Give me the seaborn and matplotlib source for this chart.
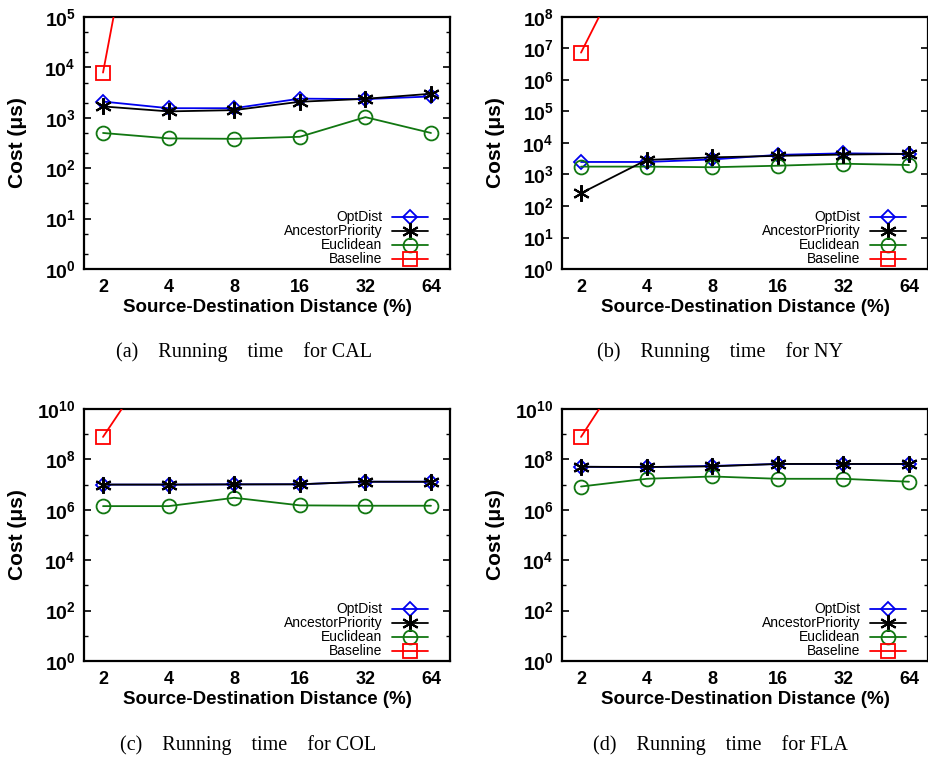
import numpy as np
import matplotlib
matplotlib.use("Agg")
import matplotlib.pyplot as plt
import matplotlib.ticker as mticker
import pandas as pd
import seaborn as sns

# distancia fonte-destino (%)
distancias = [2, 4, 8, 16, 32, 64]

# (a) CAL
cal_optdist = [2100, 1550, 1550, 2400, 2350, 2650]
cal_ancestor = [1680, 1340, 1420, 2080, 2380, 3000]
cal_euclid = [500, 390, 383, 420, 1030, 500]
cal_baseline = [7900, 6e10]

# (b) NY
ny_optdist = [2500, 2500, 3000, 4200, 4700, 4500]
ny_ancestor = [255, 2900, 3500, 3900, 4300, 4500]
ny_euclid = [1780, 1780, 1700, 1900, 2200, 2000]
ny_baseline = [7.4e6, 1e11]

# (c) COL
col_optdist = [1.0e7, 1.0e7, 1.02e7, 1.03e7, 1.3e7, 1.3e7]
col_ancestor = [1.0e7, 1.0e7, 1.02e7, 1.03e7, 1.3e7, 1.3e7]
col_euclid = [1.4e6, 1.4e6, 3.0e6, 1.5e6, 1.45e6, 1.45e6]
col_baseline = [7.8e8, 6e12]

# (d) FLA
fla_optdist = [5.1e7, 4.9e7, 5.5e7, 6.6e7, 6.6e7, 6.5e7]
fla_ancestor = [5.1e7, 5.0e7, 5.3e7, 6.6e7, 6.6e7, 6.6e7]
fla_euclid = [8.4e6, 1.7e7, 2.1e7, 1.7e7, 1.7e7, 1.3e7]
fla_baseline = [7.8e8, 8e12]

paineis = [
    ("(a)    Running    time    for CAL", cal_optdist, cal_ancestor, cal_euclid, cal_baseline, 5, 1),
    ("(b)    Running    time    for NY", ny_optdist, ny_ancestor, ny_euclid, ny_baseline, 8, 1),
    ("(c)    Running    time    for COL", col_optdist, col_ancestor, col_euclid, col_baseline, 10, 2),
    ("(d)    Running    time    for FLA", fla_optdist, fla_ancestor, fla_euclid, fla_baseline, 10, 2),
]

sns.set_style("white")
plt.rcParams["font.family"] = ["Liberation Sans", "DejaVu Sans"]
plt.rcParams["mathtext.fontset"] = "custom"
plt.rcParams["mathtext.bf"] = "Liberation Sans:bold"
plt.rcParams["mathtext.rm"] = "Liberation Sans:bold"
for k in ["text.color", "axes.labelcolor", "xtick.color", "ytick.color"]:
    plt.rcParams[k] = "black"

fig = plt.figure(figsize=(9.29, 7.61), dpi=100)
W, H = 929, 761
caixas = [(84, 17), (562, 17), (84, 409), (562, 409)]
legenda_x = [(244, 352), (720, 352), (248, 745), (720, 745)]

asterisco = (6, 2, 0)

for i, (titulo, opt, anc, euc, base, topo, passo) in enumerate(paineis):
    x0, y0 = caixas[i]
    ax = fig.add_axes([x0 / W, 1 - (y0 + 252) / H, 366 / W, 252 / H])

    sns.lineplot(x=distancias, y=opt, ax=ax, color="#0000ee", lw=1.3, marker="D",
                 markersize=7, markerfacecolor="none", markeredgecolor="#0000ee",
                 markeredgewidth=1.3, label="OptDist", zorder=3)
    sns.lineplot(x=distancias, y=anc, ax=ax, color="black", lw=1.3, marker=asterisco,
                 markersize=12, markeredgewidth=1.5, markeredgecolor="black",
                 label="AncestorPriority", zorder=4)
    sns.lineplot(x=distancias, y=euc, ax=ax, color="#117711", lw=1.3, marker="o",
                 markersize=10, markerfacecolor="none", markeredgecolor="#117711",
                 markeredgewidth=1.3, label="Euclidean", zorder=3)
    sns.lineplot(x=distancias[:len(base)], y=base, ax=ax, color="red", lw=1.3, marker="s",
                 markersize=10, markerfacecolor="none", markeredgecolor="red",
                 markeredgewidth=1.3, label="Baseline", zorder=3)

    ax.set_xscale("log", base=2)
    ax.set_yscale("log")
    ax.set_xlim(2 ** 0.71, 2 ** 6.29)
    ax.set_ylim(1, 10 ** topo)
    ax.set_xticks(distancias)
    ax.set_xticklabels([str(d) for d in distancias], fontweight="bold", fontsize=13)
    ax.xaxis.set_minor_locator(mticker.NullLocator())
    ax.tick_params(axis="x", length=0, pad=7)

    ax.yaxis.set_major_locator(mticker.FixedLocator([10.0 ** k for k in range(0, topo + 1, passo)]))
    ax.yaxis.set_major_formatter(mticker.FuncFormatter(
        lambda v, p: r"$\mathbf{10^{%d}}$" % round(np.log10(v))))
    if passo == 1:
        ax.yaxis.set_minor_locator(mticker.LogLocator(base=10, subs=[2, 5]))
    else:
        ax.yaxis.set_minor_locator(mticker.FixedLocator([10.0 ** k for k in range(1, topo, 2)]))
    ax.yaxis.set_minor_formatter(mticker.NullFormatter())
    ax.tick_params(axis="y", which="major", direction="in", length=5, width=1.2,
                   left=True, right=True, labelsize=14, pad=6)
    ax.tick_params(axis="y", which="minor", direction="in", length=3, width=1.0,
                   left=True, right=True)

    for s in ax.spines.values():
        s.set_linewidth(1.6)
        s.set_color("black")

    ax.set_xlabel("Source-Destination Distance (%)", fontweight="bold", fontsize=13.5, labelpad=2)
    ax.set_ylabel("Cost (μs)", fontweight="bold", fontsize=15)
    ax.yaxis.set_label_coords(-0.155, 0.5)

    ax.legend(loc="lower right", frameon=False, markerfirst=False, fontsize=10,
              handlelength=2.6, labelspacing=0.0, handletextpad=0.7,
              borderaxespad=0.0, bbox_to_anchor=(0.955, -0.012))

    cx, cy = legenda_x[i]
    fig.text(cx / W, 1 - cy / H, titulo, ha="center", va="center",
             fontsize=14.5, family="Liberation Serif")

fig.savefig("out.png", dpi=100)
